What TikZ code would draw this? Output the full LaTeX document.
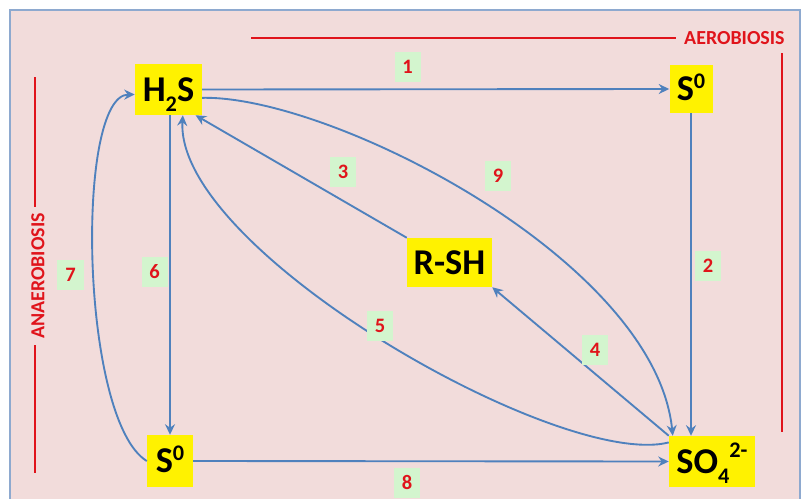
\documentclass[tikz,border=0pt]{standalone}
\usepackage{fontspec}
\setmainfont{Carlito}
\usetikzlibrary{arrows.meta}

\definecolor{bgpink}{HTML}{F2DCDB}
\definecolor{framegray}{HTML}{8EA9CF}
\definecolor{arrowblue}{HTML}{4F81BD}
\definecolor{labelgreen}{HTML}{D3F5CE}
\definecolor{zonered}{HTML}{E0141B}

\newcommand{\chemsub}[1]{\raisebox{-8.5pt}{\fontsize{19}{19}\selectfont #1}}
\newcommand{\chemsup}[2][10.5pt]{\raisebox{#1}{\fontsize{19}{19}\selectfont #2}}

\begin{document}
\begin{tikzpicture}[x=0.03cm, y=-0.03cm,
    species/.style={fill=yellow, inner sep=0pt, text height=20pt, text depth=0pt,
        font=\bfseries\fontsize{31}{31}\selectfont},
    steplabel/.style={fill=labelgreen, text=zonered, minimum width=0.78cm, minimum height=0.92cm,
        inner sep=0pt, text height=11pt, text depth=0pt, font=\bfseries\fontsize{17.5}{17.5}\selectfont},
    flow/.style={arrowblue, line width=1.6pt, -{Stealth[length=9pt, width=8.5pt, inset=3pt]}},
    zone/.style={zonered, line width=1.7pt},
    zonetext/.style={text=zonered, inner sep=0pt, text height=11pt, text depth=0pt,
        font=\bfseries\fontsize{17}{17}\selectfont}]
    \useasboundingbox (0, 0) rectangle (803, 499);
    \clip (0, 0) rectangle (803, 499);
    \draw[framegray, fill=bgpink, line width=1.4pt] (10, 10) rectangle (800, 510);

    % aerobiosis / anaerobiosis zones
    \node[zonetext, anchor=west] (aero) at (684, 38) {AEROBIOSIS};
    \draw[zone] (251, 38) -- ([xshift=-0.25cm]aero.west);
    \draw[zone] (782, 53) -- (782, 432);
    \node[zonetext, rotate=90] (anaero) at (38, 276) {ANAEROBIOSIS};
    \draw[zone] (35, 77) -- (35, 207);
    \draw[zone] (35, 345) -- (35, 473);

    % species
    \node[species, minimum width=2.01cm, minimum height=1.53cm] (hs) at (168.5, 89.5) {H\chemsub{2}S};
    \node[species, minimum width=1.29cm, minimum height=1.44cm] (s0top) at (691, 89) {S\chemsup{0}};
    \node[species, minimum width=2.55cm, minimum height=1.47cm] (rsh) at (449.5, 262.5) {R-SH};
    \node[species, minimum width=1.38cm, minimum height=1.56cm] (s0b) at (170, 461) {S\chemsup{0}};
    \node[species, minimum width=2.58cm, minimum height=1.53cm] (so4) at (712, 461.5) {SO\chemsub{4}\chemsup[13pt]{2-}};

    % reactions
    \draw[flow] (hs.east) -- (s0top.west);
    \draw[flow] (s0top.south) -- (s0top.south |- so4.north);
    \draw[flow] (rsh.north west) -- ([xshift=-0.2cm]hs.south east);
    \draw[flow] (so4.north west) -- (rsh.south east);
    \draw[flow] ([yshift=-0.2cm]so4.north west) .. controls (560, 470) and (175, 250) .. ([xshift=0.43cm]hs.south);
    \draw[flow] (s0b.north |- hs.south) -- (s0b.north);
    \draw[flow] (s0b.west) .. controls (80, 420) and (75, 95) .. ([yshift=-0.15cm]hs.west);
    \draw[flow] (s0b.east) -- (so4.west);
    \draw[flow] ([yshift=-0.25cm]hs.east) .. controls (330, 95) and (655, 260) .. ([xshift=0.12cm]so4.north west);

    % step numbers
    \node[steplabel] (n1) at (407.5, 67) {1};
    \node[steplabel] (n2) at (708, 266) {2};
    \node[steplabel] (n3) at (343, 172) {3};
    \node[steplabel] (n4) at (595, 350) {4};
    \node[steplabel] (n5) at (380, 326) {5};
    \node[steplabel] (n6) at (154.5, 272) {6};
    \node[steplabel] (n7) at (70.5, 275) {7};
    \node[steplabel] (n8) at (407, 483) {8};
    \node[steplabel] (n9) at (498, 176) {9};
\end{tikzpicture}
\end{document}
